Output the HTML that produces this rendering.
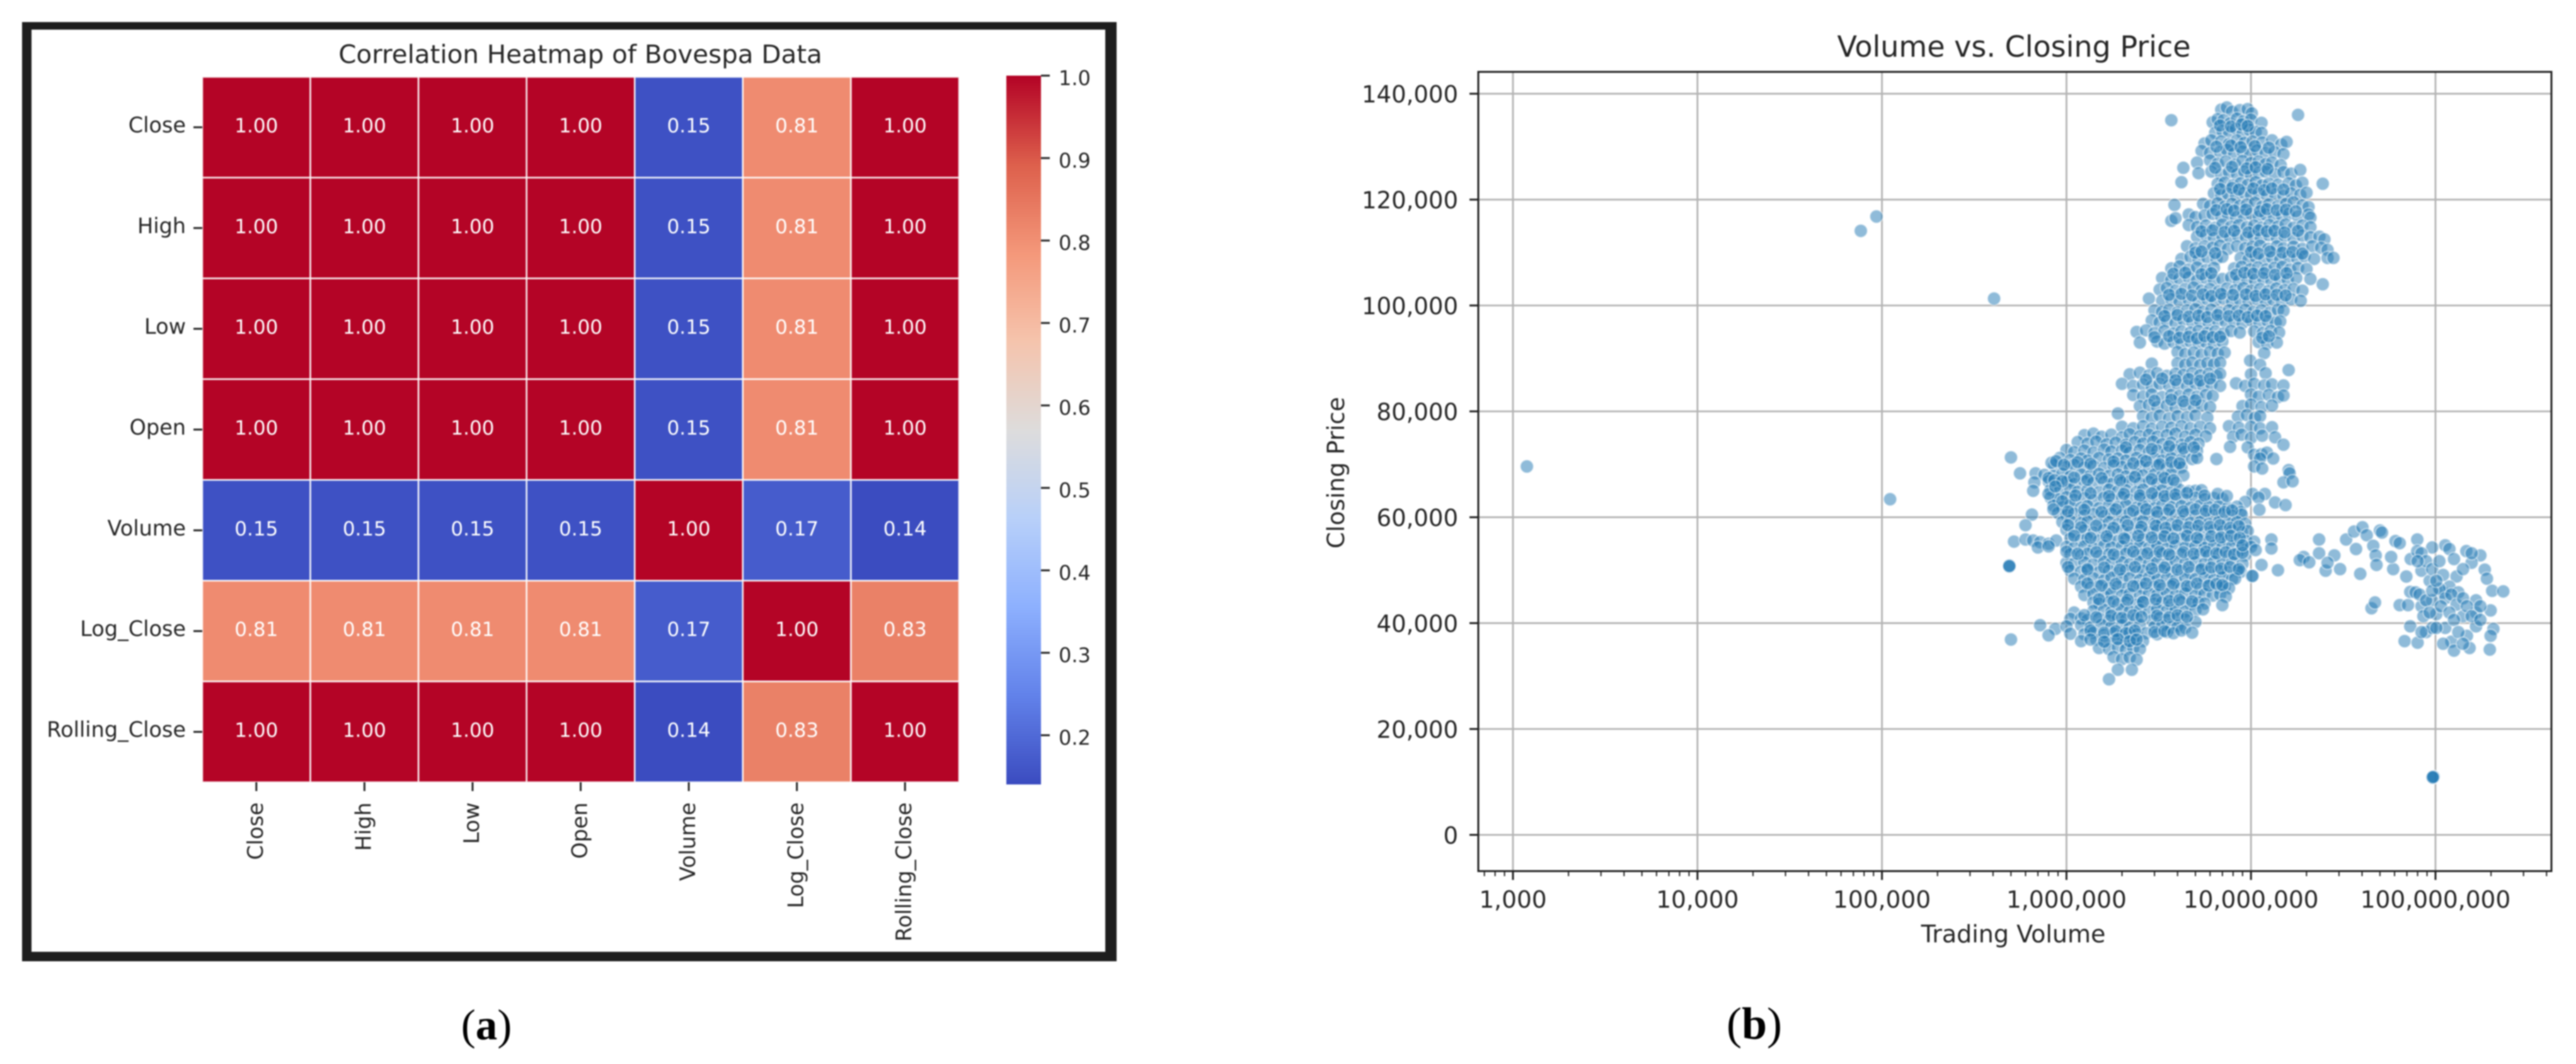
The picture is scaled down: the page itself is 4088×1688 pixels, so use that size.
<!DOCTYPE html>
<html lang="en">
<head>
<meta charset="utf-8">
<title>Correlation Heatmap and Volume vs. Closing Price</title>
<style>
html,body{margin:0;padding:0;background:#fff;}
svg{display:block;filter:blur(1px);}
text{font-family:"DejaVu Sans","Liberation Sans",sans-serif;fill:#262626;}
.cap{font-family:"Liberation Serif",serif;fill:#000;}
</style>
</head>
<body>
<svg id="fig" xmlns="http://www.w3.org/2000/svg" width="4088" height="1688" viewBox="0 0 4088 1688">
  <rect x="0" y="0" width="4088" height="1688" fill="#fff"/>
  <path d="M35 35H1772V1525H35ZM50 47V1510H1754V47Z" fill="#1e1e1e" fill-rule="evenodd"/>
  <text x="921" y="100" font-size="40.4" text-anchor="middle">Correlation Heatmap of Bovespa Data</text>
  <g id="heat"></g>
  <g id="cbar"></g>
  <text x="3196" y="90" font-size="46" text-anchor="middle">Volume vs. Closing Price</text>
  <g id="grid"></g>
  <g id="dots"></g>
  <rect x="2346" y="114" width="1703" height="1268" fill="none" stroke="#222" stroke-width="3"/>
  <g id="axes"></g>
  <text x="3195" y="1495" font-size="38" text-anchor="middle">Trading Volume</text>
  <text transform="translate(2133 750) rotate(-90)" font-size="37.5" text-anchor="middle">Closing Price</text>
  <text class="cap" x="772" y="1649" font-size="69" text-anchor="middle">(<tspan font-weight="bold" class="cap">a</tspan>)</text>
  <text class="cap" x="2784" y="1648" font-size="72" text-anchor="middle">(<tspan font-weight="bold" class="cap">b</tspan>)</text>
</svg>
<script>
const variableNames = ["Close","High","Low","Open","Volume","Log_Close","Rolling_Close"];
const correlationValues = [
 [1,1,1,1,0.152,0.81,1],
 [1,1,1,1,0.152,0.81,1],
 [1,1,1,1,0.152,0.81,1],
 [1,1,1,1,0.152,0.81,1],
 [0.152,0.152,0.152,0.152,1,0.174,0.143],
 [0.81,0.81,0.81,0.81,0.174,1,0.83],
 [1,1,1,1,0.143,0.83,1]
];
const colorbarTicks = [1.0,0.9,0.8,0.7,0.6,0.5,0.4,0.3,0.2];
const xTickValues = [1000,10000,100000,1000000,10000000,100000000];
const yTickValues = [0,20000,40000,60000,80000,100000,120000,140000];

/* Scatter readings: volume in millions, closing price in thousands, listed band by band */
const volumeUpper = [
[6.9,7.4,7.9,8.7,9.6,10.1],
[3.7,6.2,6.6,7.1,7.7,8.4,9.1,10,11.4,18],
[6.4,7,7.6,8.3,9,9.8,10.6,11.4],
[5.6,6.1,6.9,7.6,8.4,9.2,10.2,11.5,13,14.6,15.6],
[5.4,6,6.8,7.4,8.1,9,9.9,10.8,12,13.4,15],
[5.1,6,6.6,7.3,8.2,9,10,11,12,13,14.5],
[5.2,4.3,6.1,6.9,7.6,8.4,9.2,10,11,12,13.5,15,16.5,18.5],
[4.2,6.6,7.2,8,8.8,9.6,10.6,11.5,12.5,14,16,17.5,19,24.5],
[6.3,6.9,7.5,8.3,9.2,10,11,12.2,13.5,15,16.5,18.5,20],
[3.85,5.5,6,6.6,7.2,7.9,8.7,9.5,10.5,11.5,12.5,14,15.5,17,19,20.5],
[3.7,3.9,4.6,5,5.6,6.2,6.9,7.5,8.3,9.1,10,11,12,13.3,14.7,16,18,20.5,21],
[4.6,5.1,5.7,6.4,7,7.8,8.6,9.5,10.4,11.4,12.6,14,15.4,17,19,21],
[5.1,5.7,6.3,7,7.7,8.5,9.4,10.3,11.3,12.5,13.8,15.2,17,19,21,23.5,25],
[4.5,5,5.6,6.2,6.8,7.5,8.4,9.3,10.2,11.2,12.4,13.8,15,17,19,21.5,24,26],
[4.2,4.7,5.2,5.8,6.5,7,8.8,9.7,10.6,11.8,13,14.4,16,17.8,19.5,22,26,28],
[3.7,4.1,4.6,5.1,5.7,6.3,8.1,8.9,9.9,10.9,12.1,13.4,14.8,16.3,18,20],
[3.3,3.7,4.1,4.6,5.1,5.7,6.3,7,7.8,8.6,9.5,10.5,11.6,12.9,14.3,15.8,17.6,21],
[3.2,3.5,3.9,4.4,4.9,5.4,6,6.7,7.4,8.2,9.1,10,11.2,12.4,13.7,15.2,17,19,24.5],
[2.8,3.3,3.7,4.1,4.6,5.2,5.8,6.4,7.1,7.9,8.7,9.7,10.8,12,13.2,14.7,16.5,18.6],
[3,3.3,3.6,4,4.5,5,5.5,6.1,6.8,7.6,8.4,9.3,10.3,11.4,12.7,14,15],
[2.9,3.2,3.5,3.9,4.3,4.8,5.3,5.9,6.6,7.3,8.1,9,10,11.1,12.3,13.6,14.4],
[2.4,2.7,3,3.4,3.8,4.2,4.7,5.2,5.8,6.4,7.1,7.8,8.7,10.4,11.6,12.8,14.2],
[2.5,3.1,3.4,3.8,4.2,4.7,5.2,5.7,6.3,7,11,12.2,13.8],
[4,4.4,4.9,5.4,6,6.6,7.2,11.8],
[2.9,4,4.4,4.8,5.3,5.8,6.3,6.8,9.9,11.2],
[2.2,2.5,2.8,3.1,3.5,3.9,4.3,4.8,5.3,5.9,6.5,6.8,10,12,16],
[2,2.3,2.6,2.9,3.2,3.6,4,4.5,5,5.5,6.1,6.8,8.3,9.3,10.4,11.8,13,15],
[2.3,2.6,2.9,3.3,3.7,4.1,4.6,5.1,5.7,6.2,10,11,12.5,14,15],
[2.5,2.8,3.1,3.5,3.9,4.4,4.9,5.4,6,9,10,11.4,13],
[1.9,2.6,2.9,3.2,3.6,4,4.5,5,5.8,8.5,9.5,10.5,11.2],
[2,2.3,2.6,2.9,3.3,3.7,4.2,4.7,5.3,6,7.6,8.6,10,11.2,13]
];
const closeUpper = [
[137,137.4,136.6,136.9,137.1,136.3],
[135,134.6,135.2,135,134.4,135.3,134.8,135.1,134.5,136],
[132.6,133,132.8,133.4,132.5,133.2,132.8,132.6],
[130.6,131.2,131,130.5,131.2,130.7,131,130.8,131.2,130.4,130.9],
[129.2,128.8,129,129.4,128.7,129.1,128.6,129.3,128.8,129,128.6],
[127,127.4,126.8,127.2,126.6,127.3,126.9,127.2,126.7,127,126.5],
[125,126,125.3,124.7,125.2,124.8,125.3,124.7,125.1,125.3,124.8,125.2,124.9,125.6],
[123.3,123,123.2,122.7,123.1,122.8,123.3,122.7,123,122.8,123.1,122.7,123.2,123],
[121.2,120.8,121.1,120.7,121.3,120.9,121.2,120.8,121,120.7,121.2,120.9,121.3],
[119,119.2,118.8,119.3,118.7,119.2,118.8,119.1,119.4,118.7,119.1,118.8,119.2,119.5,118.9,118.6],
[116,116.5,117.2,116.7,117,117.3,116.8,117.2,116.7,117.1,117.3,116.8,117.2,116.7,117,117.3,116.8,117.2,116.6],
[115.2,114.8,115.1,114.7,115.3,114.9,115.2,114.8,115.1,114.7,115.2,114.9,115.3,114.7,115.1,114.8],
[113,113.3,112.7,113.1,112.8,113.2,112.8,113.1,112.7,113.3,112.8,113.1,112.7,113.2,112.9,113,112.5],
[111.2,110.8,111.2,110.9,111.3,110.7,111.2,110.8,111.1,111.3,110.7,111.2,110.8,111.1,110.7,111.2,110.9,110.5],
[108.8,109.2,108.7,109.1,108.8,109.2,109,108.7,109.2,108.8,109.1,108.7,109.2,108.9,109.3,108.8,109,109],
[107,107.4,106.8,107.2,106.7,107.1,107,107.3,106.8,107.2,106.8,107.1,107.3,106.8,107.1,106.9],
[105.2,104.8,105.1,105.3,104.7,105.2,104.8,105,105.3,104.7,105.1,104.8,105.2,104.7,105.1,104.9,105.2,105],
[103,103.3,102.8,103.1,103.4,102.8,103.1,102.7,103.2,102.9,103.3,102.8,103.1,102.7,103.2,102.9,103.1,102.8,104],
[101.3,100.9,101.2,100.8,101.1,100.7,101.2,100.9,101.3,100.7,101.1,100.8,101.2,100.9,101.1,100.7,101.2,100.9],
[99.1,98.8,99.2,98.7,99.1,99.3,98.8,99.2,98.7,99.1,98.9,99.2,98.8,99.1,98.7,99.2,99],
[97.2,96.8,97.1,96.7,97.3,96.9,97.1,96.7,97.2,96.9,97.1,96.7,97.2,96.8,97.1,96.8,97],
[95,95.3,94.8,95.2,94.7,95.1,94.9,95.2,94.8,95.1,94.7,95.2,94.9,95.1,94.8,95.2,94.9],
[93,93.2,92.8,93.1,92.7,93.2,92.9,93.1,92.7,93.2,93.1,92.8,93],
[91.2,90.8,91.1,90.7,91.2,90.9,91.1,91],
[89,89.1,88.8,89.2,88.7,89.1,88.9,89.2,89.6,88.8],
[87,87.3,86.8,87.2,86.7,87.1,86.9,87.2,86.8,87.1,86.7,87.1,87,87.2,87.8],
[85.2,84.8,85.1,84.7,85.2,84.9,85.1,84.8,85.2,84.9,85.1,84.8,85.3,84.8,85.2,84.9,85.1,84.9],
[83.1,82.8,83.2,82.7,83.1,82.9,83.2,82.8,83.1,82.9,83.2,82.8,83.1,82.7,83],
[81,81.2,80.8,81.1,80.7,81.2,80.9,81.1,80.8,81,81.3,80.8,81.1],
[79.6,79.1,78.8,79.2,78.7,79.1,78.9,79.2,78.8,79,79.3,78.8,79.1],
[77.1,76.8,77.2,76.7,77.1,76.9,77.2,76.8,77.1,76.8,77.2,76.9,77.1,76.8,77]
];
const volumeLower = [
[1.25,1.4,1.55,1.75,2,2.2,2.5,2.8,3.1,3.5,3.9,4.4,5,5.7,8,8.9,10,11.5,13.5],
[1.15,1.3,1.45,1.65,1.85,2.1,2.35,2.6,2.95,3.3,3.7,4.2,4.7,5.2,7.7,9.6,15],
[1,1.1,1.25,1.4,1.6,1.75,2,2.2,2.5,2.8,3.1,3.5,3.9,4.4,5.1,10.4,11.4,12.2],
[0.5,0.92,1.05,1.2,1.3,1.5,1.7,1.9,2.1,2.4,2.6,3,3.3,3.7,4.2,4.8,5.1,6.5,11.2,13.2],
[0.86,1,1.1,1.25,1.4,1.6,1.8,2,2.2,2.5,2.8,3.1,3.5,3.9,4.2,10.4,11.5,16],
[0.56,0.68,0.76,0.85,0.95,1.05,1.2,1.35,1.5,1.7,1.9,2.1,2.4,2.6,3,3.3,3.7,4.3,16.2],
[0.67,0.8,0.9,1,1.1,1.25,1.4,1.6,1.75,2,2.2,2.5,2.8,3.1,3.5,3.9,15,16.8],
[0.66,0.82,0.92,1.05,1.15,1.3,1.5,1.7,1.9,2.1,2.4,2.6,3,3.3,3.7,4.1,4.6,5,5.4,10.2,11.9],
[0.82,0.9,1,1.1,1.25,1.4,1.6,1.75,2,2.2,2.5,2.8,3.1,3.5,3.9,4.4,5,5.6,6.3,7,9.3,11,13.5,15.4],
[0.85,0.95,1.05,1.2,1.3,1.5,1.7,1.9,2.1,2.4,2.6,3,3.3,3.7,4.2,4.7,5.3,5.9,6.7,7.5,8.4,8.8,11.1],
[0.65,0.9,1,1.1,1.25,1.4,1.6,1.75,2,2.2,2.5,2.8,3.1,3.5,3.9,4.4,5,5.6,6.3,7,7.9,8.9],
[0.95,1.05,1.2,1.3,1.5,1.7,1.9,2.1,2.4,2.6,3,3.3,3.7,4.2,4.7,5.3,5.9,6.7,7.5,8.4,9.3],
[0.6,1,1.1,1.25,1.4,1.6,1.75,2,2.2,2.5,2.8,3.1,3.5,3.9,4.4,5,5.6,6.3,7,7.9,8.9,9.6],
[0.52,0.6,0.66,0.72,0.8,0.88,1.05,1.2,1.3,1.5,1.7,1.9,2.1,2.4,2.6,3,3.3,3.7,4.2,4.7,5.3,5.9,6.7,7.5,8.4,9.4,10.4],
[0.7,0.8,1,1.1,1.25,1.4,1.6,1.75,2,2.2,2.5,2.8,3.1,3.5,3.9,4.4,5,5.6,6.3,7,7.9,8.9,10],
[1.05,1.2,1.3,1.5,1.7,1.9,2.1,2.4,2.6,3,3.3,3.7,4.2,4.7,5.3,5.9,6.7,7.5,8.4,9.3],
[0.49,0.49,0.49,1,1.1,1.25,1.4,1.6,1.75,2,2.2,2.5,2.8,3.1,3.5,3.9,4.4,5,5.6,6.3,7,7.9,9],
[1.05,1.2,1.3,1.5,1.7,1.9,2.1,2.4,2.6,3,3.3,3.7,4.2,4.7,5.3,5.9,6.7,7.5,8.4,8.8,10.1],
[1.1,1.25,1.4,1.6,1.75,2,2.2,2.5,2.8,3.1,3.5,3.9,4.4,5,5.6,6.3,7,7.9,8.2],
[1.2,1.35,1.5,1.7,1.9,2.1,2.4,2.6,3,3.3,3.7,4.2,4.7,5.3,5.9,6.7,7.2,7.6],
[1.25,1.4,1.6,1.75,2,2.2,2.5,2.8,3.1,3.5,3.9,4.4,5,5.6,6.2,6.8,7.3],
[1.4,1.5,1.7,1.9,2.1,2.4,2.6,3,3.3,3.7,4.2,4.7,5.2,5.6,7],
[1.1,1.4,1.6,1.75,2,2.2,2.5,2.8,3.1,3.5,3.9,4.4,5,5.5],
[1.05,1.2,1.3,1.5,1.7,1.9,2.1,2.4,2.9,3.2,3.5,4,4.4,5],
[0.72,0.87,1,1.2,1.35,1.55,1.75,2,2.2,2.5,3,3.3,3.7,4,4.4],
[0.5,0.8,1.05,1.25,1.4,1.6,1.8,2,2.2,2.4,2.7,3.1,3.5],
[1.2,1.45,1.65,1.85,2.1,2.3,2.6],
[1.5,1.7,1.9,2.1,2.3,2.5],
[1.8,2,2.2,2.4],
[1.9,2.26],
[1.7]
];
const closeLower = [
[75.5,75.8,75.2,75.6,75.1,75.7,75.3,75.6,75.2,75.5,75.8,75.2,75.6,75.3,75.2,75.6,75,75.4,75.1],
[74.2,73.9,74.3,73.8,74.1,73.7,74.2,73.9,74.3,73.8,74.1,73.7,74.2,73.9,73.3,73.2,73.7],
[72.7,72.3,72.6,72.2,72.8,72.4,72.6,72.2,72.7,72.3,72.6,72.2,72.7,72.4,72.5,71.8,71.9,72.2],
[71.3,71.2,70.8,71.1,70.7,71.2,70.9,71.1,70.7,71.2,70.8,71.1,70.7,71.2,70.9,71,71.2,71,71.1,71.1],
[69.8,69.5,69.9,69.4,69.7,69.3,69.8,69.5,69.2,69.7,69.4,69.8,69.3,69.6,69.4,69.6,69.2,68.9],
[68.3,68.3,68,67.8,68.2,67.7,68.1,67.9,68.2,67.8,68.1,67.7,68.2,67.9,68.1,67.8,68.2,67.9,68.3],
[66.6,66.8,66.4,66.7,66.3,66.8,66.5,66.7,66.3,66.6,66.8,66.4,66.7,66.3,66.6,66.5,66.6,66.8],
[65,65.2,64.9,65.3,64.8,65.1,64.7,65.2,64.9,65.1,64.8,65.2,64.9,65.1,64.7,65.2,64.9,65,65.1,64.4,64.4],
[63.7,63.4,63.8,63.3,63.6,63.2,63.7,63.4,63.8,63.3,63.6,63.2,63.7,63.4,63.6,63.3,63.7,63.4,63.6,63.5,62.9,63.7,62.8,62.3],
[62.2,61.9,62.3,61.8,62.1,61.7,62.2,61.9,62.3,61.8,62.1,61.7,62.2,61.9,62.1,61.8,62.2,61.9,62.1,61.8,62,61,61.4],
[60.5,60.8,60.4,60.7,60.3,60.6,60.2,60.7,60.4,60.8,60.3,60.6,60.2,60.7,60.4,60.6,60.3,60.7,60.4,60.6,60.3,60.5],
[59.1,59.3,58.9,59.2,58.8,59.1,58.7,59.2,58.9,59.3,58.8,59.1,58.7,59.2,58.9,59.1,58.8,59.2,58.9,59.1,58.8],
[58.5,57.6,57.2,57.5,57.1,57.6,57.3,57.5,57.1,57.6,57.2,57.5,57.1,57.6,57.3,57.5,57.2,57.6,57.3,57.5,57.2,57.4],
[55.4,55.8,55.6,55.3,55,55.6,56,55.7,56,55.6,55.9,55.5,55.8,55.4,55.9,55.6,55.8,55.4,55.9,55.5,55.8,55.4,55.9,55.6,55.8,55.5,55.4],
[54.3,54.5,54.4,54.2,54.5,54.1,54.6,54.3,54.5,54.1,54.6,54.2,54.5,54.1,54.6,54.3,54.5,54.2,54.6,54.3,54.5,54.2,54.4],
[53,52.8,53.1,52.7,53,52.6,53.1,52.8,53,52.6,53.1,52.7,53,52.6,53.1,52.8,53,52.7,53.1,52.8],
[50.9,50.7,50.8,51.4,51.2,51.5,51.1,51.6,51.3,51.5,51.1,51.6,51.2,51.5,51.1,51.6,51.3,51.5,51.2,51.6,51.3,51.5,51.2],
[49.9,49.7,50,49.6,49.9,49.5,50,49.7,49.9,49.5,50,49.6,49.9,49.5,50,49.7,49.9,49.6,50,49.7,48.9],
[48.4,48.2,48.5,48.1,48.6,48.3,48.5,48.1,48.6,48.2,48.5,48.1,48.6,48.3,48.5,48.2,48.6,48.3,48.4],
[46.9,46.7,47,46.6,46.9,46.5,47,46.7,46.9,46.5,47,46.6,46.9,46.5,47,46.7,46.9,46.6],
[45.3,45.5,45.1,45.6,45.2,45.5,45.1,45.6,45.3,45.5,45.2,45.6,45.3,45.5,45.2,45.4,45],
[43.9,43.7,44,43.6,43.9,43.5,44,43.7,43.9,43.5,44,43.6,43.9,43.7,43.4],
[42,42.3,42.5,42.1,42.6,42.2,42.5,42.1,42.6,42.3,42.5,42.2,42.4,42.6],
[40.8,40.9,40.6,40.9,40.5,41,40.7,40.9,40.5,41,40.6,40.9,40.7,40.2],
[39.6,38.9,39.4,39.6,39.2,39.7,39.3,39.6,39.2,39.7,39.3,39.6,39.2,39.5,39.1],
[36.9,37.7,38,37.9,38.2,37.8,38.1,37.7,38.2,37.9,38.1,37.9,38.3,38.1],
[36.6,36.9,36.5,36.8,36.4,36.9,36.6],
[35.3,35.1,35.4,35,35.3,35.1],
[33.6,33.2,33.5,33.1],
[31.2,31.2],
[29.4]
];
const volumeCoreLower = [
[2.1,2.9,3.6,4.3,4.9],
[0.83,0.88,0.97,1.15,1.35,1.8,2.3,2.7,3.2,3.7,4.1],
[0.8,0.86,0.95,1.1,1.3,1.55,1.95,2.35,2.9,3.4,3.8],
[0.8,0.87,0.95,1.12,1.35,1.7,2.05,2.5,2.9,3.4,3.9,4.5,5.6,6.6,7.4],
[0.85,1.02,1.25,1.55,1.85,2.3,2.7,3.1,3.6,4.3,5,5.7,6.4,7.2,7.9],
[1.02,1.2,1.45,1.8,2.15,2.55,3.05,3.45,4,4.6,5.2,6,6.8,7.7,8.6],
[1.1,1.35,1.65,2.05,2.45,2.9,3.4,3.8,4.5,5.1,6.1,6.9,7.8,8.7],
[1,1.15,1.45,1.8,2.3,2.75,3.2,3.6,4.3,4.9,5.7,6.5,7.3,8.1,9],
[1.02,1.3,1.6,1.95,2.35,2.9,3.4,4,4.6,5.4,6.1,6.9,7.7,8.6],
[1.3,1.55,1.85,2.3,2.7,3.2,3.8,4.5,5.1,5.9,6.5,7],
[1.5,1.8,2.15,2.6,3.05,3.6,4.1,4.8],
[1.25,1.45,1.75,2,2.3,2.55,3.1,3.6,4,4.5],
[1.35,1.6,1.85,2.1,2.35,3,3.4,3.8,4.2,4.8],
[1.35,1.6,1.9,2.2,2.4]
];
const closeCoreLower = [
[73.2,72.9,73.4,73,73.2],
[70.3,70.6,69.9,70.4,70.1,70.5,70.2,70.6,70,70.4,70.2],
[67.4,67,66.8,67.5,67.1,67.4,67,67.6,67.2,67.4,67],
[64.4,65.8,63,64.1,64.5,64,64.4,64.1,64.5,64,64.3,64.6,64.1,64.4,64],
[61.5,61.1,61.4,61,61.5,61.2,61.5,61,61.4,61.1,61.5,61.2,61.4,61,61.3],
[58.5,58.1,58.4,58,58.5,58.2,58.4,58,58.5,58.1,58.4,58.2,58.5,58,58.3],
[56.5,56.1,56.4,56,56.5,56.2,56.4,56,56.5,56.1,56.4,56.2,56.5,56.1],
[53.5,53.1,53.4,53,53.5,53.2,53.5,53,53.4,53.1,53.5,53.2,53.4,53,53.3],
[50.6,50.2,50.5,50.1,50.6,50.3,50.5,50.1,50.6,50.2,50.5,50.3,50.6,50.2],
[47.5,47.1,47.4,47,47.5,47.2,47.4,47,47.5,47.1,47.4,47.2],
[44.5,44.1,44.4,44,44.5,44.2,44.4,44.1],
[41.5,41.1,41.4,41,41.5,41.2,41.4,41.1,41.5,41.2],
[38.6,38.2,38.5,38.1,38.6,38.3,38.5,38.1,38.6,38.2],
[36.9,36.5,37,36.6,36.9]
];
const volumeCoreUpper = [
[6.8,7.8,8.9,9.6],
[6.5,7.8,8.8,10.5,12.5],
[6.4,7.9,9.5,10.6,12.3],
[6.8,7.9,8.6,10.3,11.8,13,15],
[6.5,7.4,8.1,9.4,11.2,12.2,13.8,15.5,17.5],
[5.4,6.2,7.2,8.1,9.7,11,12.2,13.4,15.2,18],
[5,5.4,6.4,10,11,12.7,14.8,16.8,19],
[3.8,4.4,5.4,6.1,8.3,9.2,10.3,11.8,13.5,15.6],
[3.6,4.2,4.8,5.5,6.1,6.9,8,9.4,10.6,12,13.8,15.4],
[3.4,4,4.6,5.2,5.8,6.6,7.6,8.6,9.6,10.8,12],
[3,3.6,4.1,4.6,5.1,5.6,6.2,6.8,11.5,12.5],
[2.7,3.3,3.9,4.6,5.3,6],
[3,3.7,4.3,5]
];
const closeCoreUpper = [
[134,133.8,134.2,133.9],
[130,130.2,129.9,130.1,129.8],
[126,126.2,125.9,126.1,125.8],
[122,122.2,121.9,122.1,121.8,122.1,121.9],
[118,118.2,117.9,118.1,117.8,118.2,118,118.1,117.8],
[114,114.2,113.9,114.1,113.8,114.2,114,114.1,113.8,114.1],
[110,110.2,109.9,110.1,109.8,110.2,110,110.1,109.8],
[106,106.2,105.9,106.1,105.8,106.2,106,106.1,105.8,106.1],
[102,102.2,101.9,102.1,101.8,102.2,102,102.1,101.8,102.1,102,101.9],
[98,98.2,97.9,98.1,97.8,98.2,98,98.1,97.8,98.1,98],
[94,94.2,93.9,94.1,93.8,94.2,94,94.1,93.9,94.2],
[86,86.2,85.9,86.1,85.8,86.2],
[82,82.2,81.9,82.1]
];
const volumeRight = [
[12.9,12.9,14,11.4,10.2,10.6,9,23.4,23.4,28.3,30.4,25.4,26,19.3,18.4,20.7],
[32.8,36.2,40.2,42.4,50,51.3,37.1,46,47.4,47.9,39.1,59,57.5,60.7,64,79.7,69.5,73.4,79.7,84,96,113,119,126,147,175,157,185,190,130,93],
[45,47,64,71,73,78,84,96,110,119,133,166,203,233,199,166,141,101,86,73,68,80,89,96,113,122,126,148,153,206,199,197,166],
[82,89,105,113,122,130,141,148,175,107,93,119,157,126,175,101,84,133,110,141,84,89,96,105,80,110,141,157,96,101]
];
const closeRight = [
[55.8,54.1,50,51,48.9,53.8,54.7,55.8,53.2,52.8,50.2,49.9,51.4,52.5,51.9,51.5],
[55.8,57.3,58.1,56.6,57.5,57.1,54,54.6,52.8,51,49.3,50.2,52.5,55.5,55.1,55.8,48.8,52.1,53.6,49.9,54.3,54.7,54,52.1,53.6,52.8,51.4,50.1,48.4,48.8,48],
[42.8,43.9,43.4,43.4,45.9,45.8,43.2,44.3,45.8,46.9,45.8,44.3,46.1,46,42.4,42,41.3,41.7,41.3,39.4,36.6,36.3,38.3,39.1,39.1,36.5,34.8,37.6,35.3,38.9,37.6,35,39.4],
[45.4,44.3,46.5,44.7,45.4,43.5,44.7,43.2,43.2,43.2,42,42,41.3,40.6,40.6,39.1,38.3,38.3,36.1,36.1,53.2,51.7,50.2,51.7,51.7,49.1,50.2,53.2,46.1,48]
];
const volumeOutliers = [0.00119,0.1107,0.0768,0.0933,0.405,97,97,97.6,96.6];
const closeOutliers = [69.6,63.4,114.1,116.8,101.3,10.9,10.8,11,10.9];

const volumeMillions = [...volumeUpper, ...volumeCoreUpper, ...volumeLower, ...volumeCoreLower, ...volumeRight, volumeOutliers];
const closeThousands = [...closeUpper, ...closeCoreUpper, ...closeLower, ...closeCoreLower, ...closeRight, closeOutliers];

const SVGNS = "http://www.w3.org/2000/svg";
function el(parent, tag, attrs, text) {
  const node = document.createElementNS(SVGNS, tag);
  for (const k in attrs) node.setAttribute(k, attrs[k]);
  if (text !== undefined) node.textContent = text;
  parent.appendChild(node);
  return node;
}

/* coolwarm colour map */
const coolwarmStops = [[59,76,192],[98,130,234],[141,176,254],[184,208,249],[221,220,220],[245,196,173],[244,152,122],[221,96,76],[180,4,38]];
function coolwarm(t) {
  const c = Math.max(0, Math.min(1, t)) * (coolwarmStops.length - 1);
  const i = Math.min(Math.floor(c), coolwarmStops.length - 2);
  const f = c - i;
  const a = coolwarmStops[i], b = coolwarmStops[i + 1];
  return "rgb(" + [0, 1, 2].map(k => Math.round(a[k] + (b[k] - a[k]) * f)).join(",") + ")";
}

/* heatmap */
const heat = document.getElementById("heat");
const heatLeft = 321, heatTop = 122, heatRight = 1522, heatBottom = 1241;
const colorMax = Math.max(...correlationValues.flat());
const colorMin = Math.min(...correlationValues.flat());
const cellW = (heatRight - heatLeft) / variableNames.length;
const cellH = (heatBottom - heatTop) / variableNames.length;
const norm = v => (v - colorMin) / (colorMax - colorMin);

correlationValues.forEach((row, r) => {
  row.forEach((v, c) => {
    const cell = el(heat, "rect", {x: heatLeft + c * cellW, y: heatTop + r * cellH, width: cellW, height: cellH, fill: coolwarm(norm(v)), stroke: "#fff", "stroke-width": 2.6, "stroke-opacity": 0.85});
    
    
  });
});
correlationValues.forEach((row, r) => {
  row.forEach((v, c) => {
    const label = el(heat, "text", {x: heatLeft + (c + 0.5) * cellW, y: heatTop + (r + 0.5) * cellH + 8, "font-size": 31, "text-anchor": "middle", style: "fill:#fff"}, v.toFixed(2));
    
    
  });
});
variableNames.forEach((name, i) => {
  const cy = heatTop + (i + 0.5) * cellH;
  const cx = heatLeft + (i + 0.5) * cellW;
  const yt = el(heat, "line", {x1: heatLeft - 14, x2: heatLeft, y1: cy, y2: cy, stroke: "#262626", "stroke-width": 3});
  
  
  const yl = el(heat, "text", {x: heatLeft - 26, y: cy + 8, "font-size": 33.5, "text-anchor": "end"}, name);
  
  
  const xt = el(heat, "line", {x1: cx, x2: cx, y1: heatBottom, y2: heatBottom + 14, stroke: "#262626", "stroke-width": 3});
  
  
  const xl = el(heat, "text", {transform: "translate(" + (cx + 10) + " " + (heatBottom + 32) + ") rotate(-90)", "font-size": 33.5, "text-anchor": "end"}, name);
  
  
});

/* colour bar */
const cbar = document.getElementById("cbar");
const cbLeft = 1597, cbRight = 1652, cbTop = 120, cbBottom = 1241;
const cbY = v => cbTop + (colorMax - v) / (colorMax - colorMin) * (cbBottom - cbTop);
for (let y = cbTop; y < cbBottom; y += 4) {
  const strip = el(cbar, "rect", {x: cbLeft, y: y, width: cbRight - cbLeft, height: 4.5, fill: coolwarm((cbBottom - y) / (cbBottom - cbTop))});
  
  
}
colorbarTicks.forEach(v => {
  const y = cbY(v);
  const t = el(cbar, "line", {x1: cbRight, x2: cbRight + 14, y1: y, y2: y, stroke: "#262626", "stroke-width": 3});
  
  
  const l = el(cbar, "text", {x: cbRight + 28, y: y + 15, "font-size": 32}, v.toFixed(1));
  
  
});

/* scatter axes */
const axLeft = 2346, axRight = 4049, axTop = 114, axBottom = 1382;
const xPos = v => 2401 + (Math.log10(v) - 3) * 292.8;
const yPos = v => 1324.5 - v * 0.0083986;
const grid = document.getElementById("grid");
const axes = document.getElementById("axes");

xTickValues.forEach(v => {
  const x = xPos(v);
  const g = el(grid, "line", {x1: x, x2: x, y1: axTop, y2: axBottom, stroke: "#b4b4b4", "stroke-width": 2.8});
  
  
  const t = el(axes, "line", {x1: x, x2: x, y1: axBottom, y2: axBottom + 14, stroke: "#222", "stroke-width": 3});
  
  
  const l = el(axes, "text", {x: x, y: 1440, "font-size": 37.5, "text-anchor": "middle"}, v.toLocaleString("en-US"));
  
  
});
for (let d = 100; d <= 100000000; d *= 10) {
  for (let m = 2; m <= 9; m++) {
    const x = xPos(d * m);
    if (x < axLeft || x > axRight) continue;
    const t = el(axes, "line", {x1: x, x2: x, y1: axBottom, y2: axBottom + 8, stroke: "#222", "stroke-width": 2});
    
    
  }
}
yTickValues.forEach(v => {
  const y = yPos(v);
  const g = el(grid, "line", {x1: axLeft, x2: axRight, y1: y, y2: y, stroke: "#b4b4b4", "stroke-width": 2.8});
  
  
  const t = el(axes, "line", {x1: axLeft - 14, x2: axLeft, y1: y, y2: y, stroke: "#222", "stroke-width": 3});
  
  
  const l = el(axes, "text", {x: 2314, y: y + 14, "font-size": 37, "text-anchor": "end"}, v.toLocaleString("en-US"));
  
  
});

/* scatter points */
const dots = document.getElementById("dots");
volumeMillions.forEach((band, b) => {
  const closes = closeThousands[b];
  band.forEach((vol, i) => {
    if (closes[i] === undefined) return;
    const dot = el(dots, "circle", {cx: xPos(vol * 1e6).toFixed(1), cy: yPos(closes[i] * 1000).toFixed(1), r: 10.5, fill: "#1f77b4", "fill-opacity": 0.5, stroke: "#fff", "stroke-opacity": 0.5, "stroke-width": 2});
    
    
  });
});
</script>
</body>
</html>
